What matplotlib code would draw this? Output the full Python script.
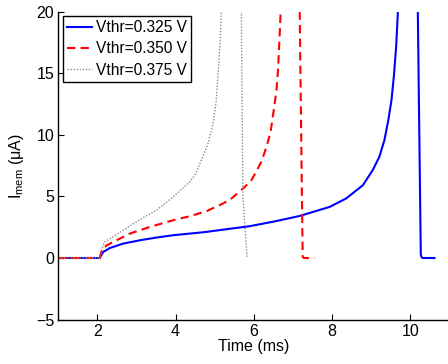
import numpy as np
import matplotlib.pyplot as plt

plt.rcParams['font.family'] = ['Liberation Sans', 'DejaVu Sans']
plt.rcParams['mathtext.fontset'] = 'custom'
plt.rcParams['mathtext.rm'] = 'Liberation Sans'

labels = ["Vthr=0.325 V", "Vthr=0.350 V", "Vthr=0.375 V"]

# Vthr = 0.325 V
t_325 = [1.0, 2.06, 2.15, 2.32, 2.66, 3.09, 3.51, 3.94, 4.36, 4.79, 5.21,
         5.89, 6.5, 7.17, 7.94, 8.36, 8.79, 9.04, 9.21, 9.34, 9.44, 9.52,
         9.58, 9.64, 9.70, 10.19, 10.27, 10.29, 10.32, 10.62]
i_325 = [0.0, 0.0, 0.49, 0.81, 1.17, 1.44, 1.66, 1.85, 1.98, 2.12, 2.3,
         2.58, 2.95, 3.41, 4.15, 4.83, 5.91, 7.13, 8.21, 9.57, 11.2, 12.8,
         14.7, 17.15, 21.0, 21.0, 0.3, 0.05, 0.0, 0.0]

# Vthr = 0.350 V
t_350 = [1.0, 2.06, 2.11, 2.24, 2.49, 2.83, 3.34, 3.94, 4.36, 4.79, 5.21,
         5.43, 5.77, 5.94, 6.06, 6.19, 6.28, 6.36, 6.43, 6.51, 6.58, 6.62,
         6.66, 6.70, 7.17, 7.23, 7.25, 7.28, 7.55]
i_350 = [0.0, 0.0, 0.63, 1.03, 1.44, 1.98, 2.52, 3.07, 3.39, 3.8, 4.42,
         4.83, 5.77, 6.32, 7.0, 7.8, 8.6, 9.43, 10.24, 12.0, 13.6, 15.3,
         18.0, 21.0, 21.0, 5.2, 0.1, 0.0, 0.0]

# Vthr = 0.375 V
t_375 = [1.0, 2.06, 2.15, 2.19, 2.66, 3.09, 3.51, 3.94, 4.36, 4.49, 4.66,
         4.83, 4.96, 5.04, 5.10, 5.15, 5.18, 5.68, 5.72, 5.83]
i_375 = [0.0, 0.0, 1.03, 1.3, 2.25, 3.12, 3.88, 4.96, 6.18, 6.72, 7.94,
         9.3, 10.9, 12.8, 15.5, 18.2, 21.0, 21.0, 5.0, 0.0]

fig = plt.figure(figsize=(4.48, 3.64), dpi=100)
ax = fig.add_axes([0.130, 0.122, 0.873, 0.846])

ax.plot(t_325, i_325, color='#0000ff', lw=1.5, label=labels[0])
ax.plot(t_350, i_350, color='#ff0000', lw=1.5, ls=(0, (4, 2.5)), label=labels[1])
ax.plot(t_375, i_375, color='#8c8c8c', lw=1.0, ls=(0, (1, 1.2)), label=labels[2])

ax.set_xlim(1, 11)
ax.set_ylim(-5, 20)
ax.set_xticks([2, 4, 6, 8, 10])
ax.set_yticks([-5, 0, 5, 10, 15, 20])
ax.tick_params(direction='in', length=4, labelsize=11.5, width=0.8, pad=3)
ax.spines['top'].set_visible(False)
ax.spines['right'].set_visible(False)
ax.spines['left'].set_linewidth(1.0)
ax.spines['bottom'].set_linewidth(1.0)

ax.set_xlabel("Time (ms)", fontsize=11.5, labelpad=0)
ax.set_ylabel("I$_{\\mathrm{mem}}$ (\u03bcA)", fontsize=11.5, labelpad=7)

leg = ax.legend(loc='upper left', fontsize=11.2, frameon=True, fancybox=False,
                edgecolor='black', framealpha=1, handlelength=1.6,
                handletextpad=0.3, borderpad=0.25, labelspacing=0.4,
                borderaxespad=0.3)
leg.get_frame().set_linewidth(1.0)

fig.savefig("out.png", dpi=100)
plt.close(fig)
